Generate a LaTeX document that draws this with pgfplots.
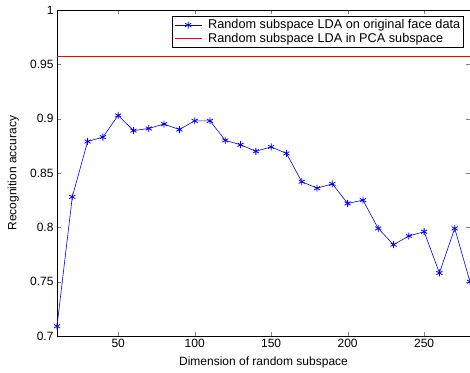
\documentclass[border=0pt]{standalone}
\usepackage{fontspec}
\setmainfont{Liberation Sans}
\usepackage{pgfplots}
\pgfplotsset{compat=1.18}
\begin{document}
\begin{tikzpicture}
\begin{axis}[
  scale only axis,
  width=413pt, height=326pt,
  xmin=10, xmax=280, ymin=0.7, ymax=1,
  xtick={50,100,150,200,250},
  ytick={0.7,0.75,0.8,0.85,0.9,0.95,1},
  yticklabels={0.7,0.75,0.8,0.85,0.9,0.95,1},
  tick align=inside, tick pos=both,
  major tick length=4pt,
  /pgf/number format/assume math mode=true,
  tick label style={font=\fontsize{12}{13}\selectfont},
  label style={font=\fontsize{12}{13}\selectfont},
  xlabel={Dimension of random subspace},
  ylabel={Recognition accuracy},
  xlabel style={at={(axis description cs:0.5,-0.082)}, anchor=center},
  ylabel style={at={(axis description cs:-0.106,0.5)}, anchor=center},
  axis line style={black, line width=0.6pt},
  legend style={at={(rel axis cs:0.9855,0.982)}, anchor=north east,
    font=\fontsize{12.7}{14}\selectfont, draw=black, line width=0.6pt,
    inner xsep=1.5pt, inner ysep=1.5pt, row sep=-1.5pt, cells={anchor=west}},
  legend cell align=left,
  legend image code/.code={\draw[mark repeat=2,mark phase=2,#1] plot coordinates {(0pt,0pt) (13.5pt,0pt) (27pt,0pt)}; \path (31pt,0pt);},
]
\addplot[color={rgb,1:red,0;green,0;blue,1}, line width=0.6pt, mark=asterisk, mark size=3.5pt, mark options={line width=0.8pt}] coordinates {
(10,0.709) (20,0.828) (30,0.879) (40,0.883) (50,0.903) (60,0.889) (70,0.891)
(80,0.895) (90,0.890) (100,0.898) (110,0.898) (120,0.880) (130,0.876) (140,0.870)
(150,0.874) (160,0.868) (170,0.842) (180,0.836) (190,0.840) (200,0.822) (210,0.825)
(220,0.799) (230,0.784) (240,0.792) (250,0.796) (260,0.758) (270,0.799) (280,0.750)
};
\addlegendentry{Random subspace LDA on original face data}
\addplot[color={rgb,1:red,1;green,0;blue,0}, line width=1pt] coordinates {(10,0.957) (280,0.957)};
\addlegendentry{Random subspace LDA in PCA subspace}
\end{axis}
\pgfresetboundingbox
\path ([xshift=-57pt,yshift=-36pt]current axis.south west) rectangle ([yshift=10pt]current axis.north east);
\end{tikzpicture}
\end{document}
